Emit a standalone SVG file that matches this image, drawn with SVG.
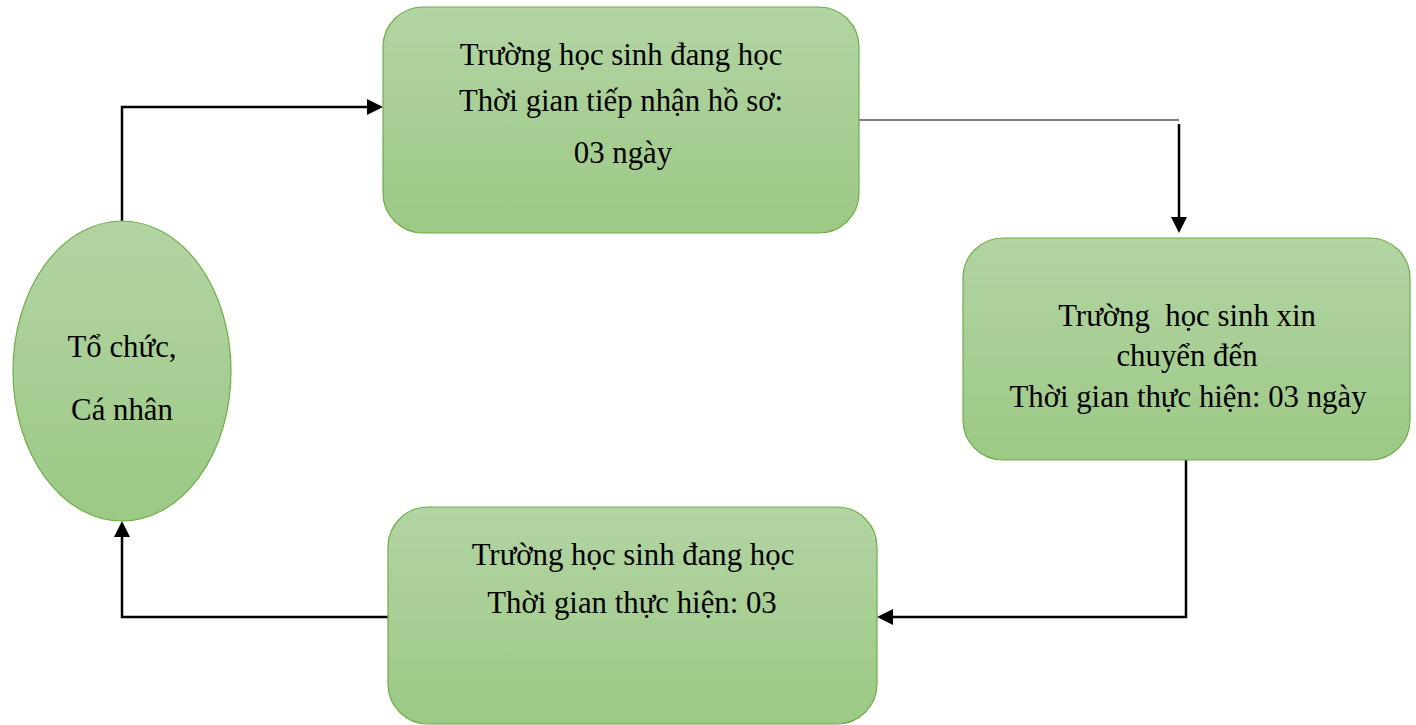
<svg xmlns="http://www.w3.org/2000/svg" width="1416" height="725" viewBox="0 0 1416 725">
<style>
.node{fill:url(#g);stroke:#70ad47;stroke-width:1.2}
.t{font-family:"Liberation Serif","Times New Roman",serif;font-size:30.8px;fill:#000;text-anchor:middle}
.c{fill:none;stroke:#000;stroke-width:2.5}
.thin{fill:none;stroke:#000;stroke-width:1.2}
</style>
<defs>
<linearGradient id="g" x1="0" y1="0" x2="0" y2="1">
<stop offset="0" stop-color="#b3d4a3"/>
<stop offset="1" stop-color="#9cc985"/>
</linearGradient>
</defs>
<g id="connectors">
<path class="c" d="M122,221 V107 H368" />
<path d="M383,107 L367,99 L367,115 z" fill="#000"/>
<path class="thin" d="M859,120 H1179" />
<path class="c" d="M1179,124 V217" />
<path d="M1179,233 L1171,217 L1187,217 z" fill="#000"/>
<path class="c" d="M1186,460 V617 H893" />
<path d="M877,617 L893,609 L893,625 z" fill="#000"/>
<path class="c" d="M388,617 H122 V537" />
<path d="M122,521 L114,537 L130,537 z" fill="#000"/>
</g>
<g id="node-ellipse">
<ellipse class="node" cx="122" cy="371" rx="109" ry="150"/>
<text class="t" x="122" y="357">Tổ chức,</text>
<text class="t" x="122" y="420">Cá nhân</text>
</g>
<g id="node-top">
<rect class="node" x="383" y="7" width="476" height="226" rx="40"/>
<text class="t" x="621" y="65">Trường học sinh đang học</text>
<text class="t" x="621" y="111">Thời gian tiếp nhận hồ sơ:</text>
<text class="t" x="623" y="163">03 ngày</text>
</g>
<g id="node-right">
<rect class="node" x="963" y="238" width="447" height="222" rx="40"/>
<text class="t" x="1187" y="326" xml:space="preserve">Trường  học sinh xin</text>
<text class="t" x="1187" y="366">chuyển đến</text>
<text class="t" x="1188" y="407">Thời gian thực hiện: 03 ngày</text>
</g>
<g id="node-bottom">
<rect class="node" x="388" y="507" width="489" height="217" rx="40"/>
<text class="t" x="633" y="565">Trường học sinh đang học</text>
<text class="t" x="632" y="613">Thời gian thực hiện: 03</text>
</g>
</svg>
